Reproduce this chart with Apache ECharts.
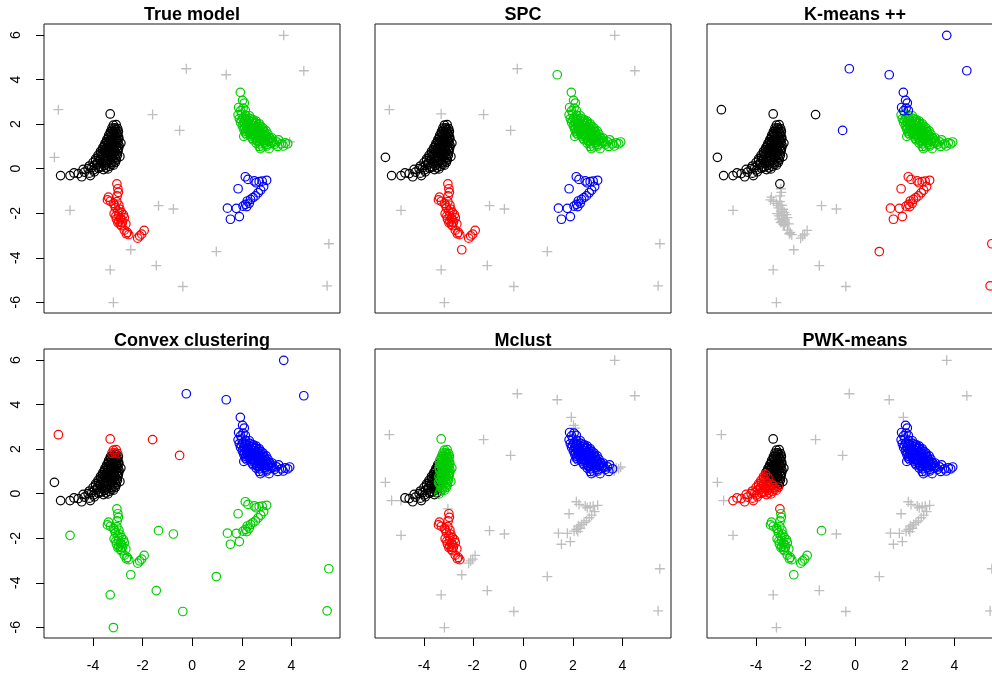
<!DOCTYPE html>
<html>
<head>
<meta charset="utf-8">
<script src="https://cdn.jsdelivr.net/npm/echarts@6/dist/echarts.min.js"></script>
<style>
html,body{margin:0;padding:0;background:#fff;}
#chart{width:992px;height:675px;}
</style>
</head>
<body>
<div id="chart"></div>
<script>
// ---------- point coordinates (same sample in every panel) ----------
// true cluster 1 (black crescent)
const blackX = [-5.31,-4.93,-4.46,-4.11, -4.77,-4.6,-4.35,-4.15,-3.95, -4.4,-4.2,-3.98,-3.78,-3.58,-3.4,
  -4.15,-3.95,-3.75,-3.55,-3.35,-3.18, -4.0,-3.82,-3.64,-3.46,-3.28,-3.1, -3.9,-3.72,-3.55,-3.38,-3.22,-3.06,
  -3.8,-3.63,-3.47,-3.31,-3.16,-3.02,-2.92, -3.7,-3.55,-3.4,-3.26,-3.12,-2.99, -3.6,-3.46,-3.32,-3.19,-3.06,-2.97,
  -3.52,-3.39,-3.26,-3.13,-3.0,-2.88, -3.44,-3.31,-3.18,-3.05,-2.96, -3.37,-3.25,-3.13,-3.01,
  -3.3,-3.19,-3.07,-2.98, -3.24,-3.12,-3.01, -3.18,-3.07, -3.31];
const blackY = [-0.31,-0.31,-0.36,-0.31, -0.19,-0.22,-0.15,-0.2,-0.14, -0.03,0.0,-0.05,0.02,-0.04,-0.01,
  0.12,0.15,0.1,0.14,0.11,0.16, 0.28,0.3,0.26,0.31,0.27,0.29, 0.44,0.42,0.47,0.43,0.46,0.41,
  0.6,0.62,0.58,0.63,0.59,0.61,0.55, 0.78,0.8,0.76,0.79,0.77,0.81, 0.96,0.94,0.98,0.95,0.97,0.93,
  1.14,1.16,1.12,1.15,1.13,1.15, 1.32,1.3,1.34,1.31,1.33, 1.5,1.52,1.48,1.51,
  1.66,1.68,1.64,1.67, 1.82,1.84,1.8, 1.96,1.98, 2.46];
// dense core of the black crescent
const blackCoreX = [-4.05,-3.68,-3.48, -3.85,-3.45,-3.25, -3.9,-3.7,-3.5,-3.32,-3.15, -3.78,-3.6,-3.42,-3.26,-3.1,
  -3.7,-3.52,-3.36,-3.2,-3.05, -3.62,-3.46,-3.3,-3.15,-3.02, -3.54,-3.38,-3.22,-3.08,-2.95,
  -3.46,-3.3,-3.16,-3.02, -3.38,-3.22,-3.08,-2.97, -3.3,-3.16,-3.03, -3.22,-3.08];
const blackCoreY = [0.05,0.07,0.04, 0.2,0.22,0.19, 0.36,0.38,0.35,0.37,0.34, 0.52,0.54,0.51,0.53,0.5,
  0.69,0.71,0.68,0.7,0.67, 0.87,0.89,0.86,0.88,0.85, 1.05,1.07,1.04,1.06,1.03,
  1.23,1.25,1.22,1.24, 1.41,1.43,1.4,1.42, 1.58,1.6,1.57, 1.74,1.76];
// true cluster 2 (red)
const redX = [-3.04,-3.0,-2.98,-3.03,-3.38,-3.42,-3.3,-3.18,-3.04,-2.96,-3.1,-3.0,-2.86,-3.15,-2.96,-2.78,
  -3.06,-2.9,-2.74,-2.96,-2.82,-2.68,-3.0,-2.86,-2.74,-2.62,-2.56,-2.66,-2.2,-2.12,-2.04,-1.94];
const redY = [-0.68,-0.9,-1.06,-1.22,-1.28,-1.4,-1.46,-1.56,-1.48,-1.64,-1.76,-1.9,-1.96,-2.02,-2.1,-2.06,
  -2.26,-2.24,-2.2,-2.36,-2.42,-2.48,-2.42,-2.56,-2.76,-2.86,-2.96,-2.92,-3.12,-3.02,-2.94,-2.77];
const redCoreX = [-2.92,-3.08,-2.84,-2.9,-3.12];
const redCoreY = [-1.82,-2.12,-2.3,-2.5,-1.65];
// true cluster 3 (green crescent)
const greenX = [1.94, 2.03, 2.1, 1.87,2.05, 1.95,2.14, 1.85,2.0,2.15,2.3, 1.9,2.04,2.18,2.32,2.46,
  1.95,2.1,2.25,2.4,2.55,2.7, 2.02,2.17,2.32,2.47,2.62,2.77, 2.08,2.23,2.38,2.53,2.68,2.83,2.98,
  2.14,2.3,2.45,2.6,2.75,2.9,3.05, 2.08,2.35,2.5,2.65,2.8,2.95,3.1,3.22, 2.45,2.6,2.75,2.9,3.05,3.2,3.48,
  2.58,2.72,2.87,3.02,3.18,3.32,3.6,3.75,3.85, 2.7,2.85,3.0,3.45,3.67, 2.75,3.1];
const greenY = [3.43, 3.07, 2.95, 2.75,2.72, 2.6,2.62, 2.42,2.45,2.4,2.38, 2.25,2.28,2.22,2.26,2.2,
  2.08,2.1,2.05,2.1,2.06,2.02, 1.92,1.95,1.9,1.93,1.88,1.9, 1.76,1.78,1.74,1.77,1.72,1.75,1.7,
  1.6,1.62,1.58,1.61,1.57,1.6,1.55, 1.45,1.47,1.43,1.46,1.42,1.44,1.4,1.38, 1.3,1.28,1.32,1.27,1.3,1.25,1.3,
  1.15,1.12,1.17,1.1,1.14,1.1,1.12,1.16,1.12, 1.0,0.98,1.02,1.0,1.02, 0.9,0.9];
// dense core of the green crescent
const greenCoreX = [1.98,2.13,2.28,2.43,2.58, 2.05,2.2,2.35,2.5,2.65, 2.1,2.25,2.4,2.55,2.7,2.85,
  2.15,2.3,2.45,2.6,2.75,2.9, 2.2,2.38,2.53,2.68,2.83,2.98, 2.42,2.57,2.72,2.87,3.02,3.15,
  2.65,2.8,2.95,3.1,3.25,3.4];
const greenCoreY = [2.17,2.19,2.15,2.18,2.14, 2.0,2.02,1.98,2.01,1.97, 1.84,1.86,1.82,1.85,1.81,1.83,
  1.68,1.7,1.66,1.69,1.65,1.67, 1.52,1.54,1.5,1.53,1.49,1.51, 1.37,1.39,1.35,1.38,1.34,1.36,
  1.22,1.24,1.2,1.23,1.19,1.21];
// true cluster 4 (blue)
const blueX = [2.14,2.25,2.5,2.58,2.7,2.82,3.0,2.88,2.76,2.66,2.55,2.45,2.35,2.22,2.3,2.15,2.05,2.2,1.85,1.42,1.78,1.54,1.9];
const blueY = [-0.36,-0.48,-0.55,-0.63,-0.58,-0.56,-0.52,-0.8,-0.96,-1.08,-1.22,-1.3,-1.38,-1.45,-1.55,-1.6,-1.68,-1.7,-0.9,-1.77,-1.78,-2.27,-2.15];
// scattered noise points
const noiseX = [3.69,-0.24,1.37,4.50,-5.40,-1.60,-0.51,-5.56,3.93,-4.93,-1.36,-0.76,-2.48,0.97,-3.31,-1.45,-0.38,-3.18,5.51,5.44];
const noiseY = [5.99,4.49,4.22,4.40,2.65,2.43,1.72,0.51,1.20,-1.87,-1.66,-1.81,-3.64,-3.72,-4.54,-4.35,-5.29,-6.01,-3.37,-5.26];

// ---------- labels per panel (k black, r red, g green, b blue, n noise "+") ----------
// group order: black, blackCore, red, redCore, green, greenCore, blue, noise
const titles = ['True model','SPC','K-means ++','Convex clustering','Mclust','PWK-means'];

const trueLabels = [
  "kkkk kkkkk kkkkkk kkkkkk kkkkkk kkkkkk kkkkkkk kkkkkk kkkkkk kkkkkk kkkkk kkkk kkkk kkk kk k",
  "kkk kkk kkkkk kkkkk kkkkk kkkkk kkkkk kkkk kkkk kkk kk",
  "rrrrrrrr rrrrrrrr rrrrrrrr rrrrrrrr",
  "rrrrr",
  "g g g gg gg gggg ggggg gggggg gggggg ggggggg ggggggg gggggggg ggggggg ggggggggg ggggg gg",
  "ggggg ggggg gggggg gggggg gggggg gggggg gggggg",
  "bbbbbbbb bbbbbbbb bbbbbbb",
  "nnnnnnnnnnnnnnnnnnnn"];
const spcLabels = [
  "kkkk kkkkk kkkkkk kkkkkk kkkkkk kkkkkk kkkkkkk kkkkkk kkkkkk kkkkkk kkkkk kkkk kkkk kkk kk n",
  "kkk kkk kkkkk kkkkk kkkkk kkkkk kkkkk kkkk kkkk kkk kk",
  "rrrrrrrr rrrrrrrr rrrrrrrr rrrrrrrr",
  "rrrrr",
  "g g g gg gg gggg ggggg gggggg gggggg ggggggg ggggggg gggggggg ggggggg ggggggggg ggggg gg",
  "ggggg ggggg gggggg gggggg gggggg gggggg gggggg",
  "bbbbbbbb bbbbbbbb bbbbbbb",
  "nngnnnnkgnnnrnnnnnnn"];
const kmLabels = [
  "kkkk kkkkk kkkkkk kkkkkk kkkkkk kkkkkk kkkkkkk kkkkkk kkkkkk kkkkkk kkkkk kkkk kkkk kkk kk k",
  "kkk kkk kkkkk kkkkk kkkkk kkkkk kkkkk kkkk kkkk kkk kk",
  "knnnnnnn nnnnnnnn nnnnnnnn nnnnnnnn",
  "nnnnn",
  "b b b bb bb gggg ggggg gggggg gggggg ggggggg ggggggg gggggggg ggggggg ggggggggg ggggg gg",
  "ggggg ggggg gggggg gggggg gggggg gggggg gggggg",
  "rrrrrrrr rrrrrrrr rrrrrrr",
  "bbbbkkbkgnnnnrnnnnrr"];
const cvxLabels = [
  "kkkk kkkkk kkkkkk kkkkkk kkkkkk kkkkkk kkkkkkk kkkkkk kkkkkk kkkkkk kkkkk kkkk kkkk rrr rr r",
  "kkk kkk kkkkk kkkkk kkkkk kkkkk kkkkk kkkk kkkk kkk kk",
  "gggggggg gggggggg gggggggg gggggggg",
  "ggggg",
  "b b b bb bb bbbb bbbbb bbbbbb bbbbbb bbbbbbb bbbbbbb bbbbbbbb bbbbbbb bbbbbbbbb bbbbb bb",
  "bbbbb bbbbb bbbbbb bbbbbb bbbbbb bbbbbb bbbbbb",
  "gggggggg gggggggg ggggggg",
  "bbbbrrrkbggggggggggg"];
const mclustLabels = [
  "nnkk kkkkk kkkkkg kkkkgg kkkkgg kkkggg kkkgggg kkgggg kkgggg kggggg kgggg gggg gggg ggg gg g",
  "kkk kkg kkkgg kkggg kkggg kkggg kgggg kggg gggg ggg gg",
  "nrrrrrrr rrrrrrrr rrrrrrrr rrrrnnnn",
  "rrrrr",
  "n n n bb bb bbbb bbbbb bbbbbb bbbbbb bbbbbbb bbbbbbb bbbbbbbb bbbbbbb bbbbbbbnn bbbbn bb",
  "bbbbb bbbbb bbbbbb bbbbbb bbbbbb bbbbbb bbbbbb",
  "nnnnnnnn nnnnnnnn nnnnnnn",
  "nnnnnnnnnnnnnnnnnnnn"];
const pwkLabels = [
  "nrrr rrrrr rrrrrr rrrrrr rrrrrr rrrrkk rrkkkkk rkkkkk kkkkkk kkkkkk kkkkk kkkk kkkk kkk kk k",
  "rrr rrr rrrrk rrkkk rrkkk rkkkk kkkkk kkkk kkkk kkk kk",
  "rggggggg gggggggg gggggggg gggggggg",
  "ggggg",
  "n b b bb bb bbbb bbbbb bbbbbb bbbbbb bbbbbbb bbbbbbb bbbbbbbb bbbbbbb bbbbbbbbb bbbbb bb",
  "bbbbb bbbbb bbbbbb bbbbbb bbbbbb bbbbbb bbbbbb",
  "nnnnnnnn nnnnnnnn nnnnnnn",
  "nnnnnnnnbngngnnnnnnn"];

const xTicks = [-4,-2,0,2,4];
const yTicks = [-6,-4,-2,0,2,4,6];

// ---------- build ----------
const groupsX = [blackX, blackCoreX, redX, redCoreX, greenX, greenCoreX, blueX, noiseX];
const groupsY = [blackY, blackCoreY, redY, redCoreY, greenY, greenCoreY, blueY, noiseY];
const panelLabels = [trueLabels, spcLabels, kmLabels, cvxLabels, mclustLabels, pwkLabels];
const COLORS = {k:'#000000', r:'#FF0000', g:'#00CD00', b:'#0000FF', n:'#BEBEBE'};
const ORDER = ['n','k','r','g','b'];

const lefts = [44, 375, 707], tops = [24, 349];
const W = 296, H = 289;
const XMIN = -5.98, XMAX = 5.96, YMIN = -6.48, YMAX = 6.5;
const FONT = '"Liberation Sans", Arial, Helvetica, sans-serif';

const grids = [], xAxes = [], yAxes = [], series = [], graphics = [];
for (let p = 0; p < 6; p++) {
  const col = p % 3, row = Math.floor(p / 3);
  const isLeft = col === 0, isBottom = row === 1;
  grids.push({left: lefts[col], top: tops[row], width: W, height: H, show: true,
    borderColor: '#1a1a1a', borderWidth: 1, backgroundColor: 'transparent',
    containLabel: false, outerBoundsMode: 'none'});
  xAxes.push({gridIndex: p, type: 'value', min: XMIN, max: XMAX, position: 'bottom',
    splitLine: {show: false}, axisLine: {show: false, onZero: false},
    axisTick: {show: isBottom, inside: false, customValues: xTicks, length: 8, lineStyle: {color: '#000', width: 1}},
    axisLabel: {show: isBottom, customValues: xTicks, margin: 21, fontSize: 14, color: '#000', fontFamily: FONT}});
  yAxes.push({gridIndex: p, type: 'value', min: YMIN, max: YMAX, position: 'left',
    splitLine: {show: false}, axisLine: {show: false, onZero: false},
    axisTick: {show: isLeft, inside: false, customValues: yTicks, length: 8, lineStyle: {color: '#000', width: 1}},
    axisLabel: {show: isLeft, customValues: yTicks, rotate: 90, margin: 21, fontSize: 14, color: '#000', fontFamily: FONT}});

  const labs = panelLabels[p].map(s => s.replace(/\s+/g, ''));
  const buckets = {n: [], k: [], r: [], g: [], b: []};
  for (let gi = 0; gi < groupsX.length; gi++) {
    const xs = groupsX[gi], ys = groupsY[gi], lab = labs[gi];
    for (let i = 0; i < xs.length; i++) {
      const c = lab.charAt(i) || 'n';
      buckets[c].push([xs[i], ys[i]]);
    }
  }
  ORDER.forEach((c, oi) => {
    if (!buckets[c].length) return;
    const plus = c === 'n';
    series.push({
      type: 'scatter', xAxisIndex: p, yAxisIndex: p, data: buckets[c], z: 2 + oi,
      symbol: plus ? 'path://M5,0L5,10M0,5L10,5' : 'circle',
      symbolSize: plus ? 10 : 8.5,
      itemStyle: {color: 'rgba(0,0,0,0)', borderColor: COLORS[c], borderWidth: plus ? 1.3 : 1.2, opacity: 1},
      emphasis: {disabled: true}, silent: true, clip: true
    });
  });

  graphics.push({type: 'text', x: lefts[col] + W / 2, y: row === 0 ? 15.5 : 340.8,
    style: {text: titles[p], textAlign: 'center', textVerticalAlign: 'middle',
      font: 'bold 18px ' + FONT, fill: '#000'}});
}

const chart = echarts.init(document.getElementById('chart'), null, {renderer: 'canvas'});
chart.setOption({
  animation: false,
  backgroundColor: '#ffffff',
  grid: grids, xAxis: xAxes, yAxis: yAxes, series: series,
  graphic: graphics
});
</script>
</body>
</html>
